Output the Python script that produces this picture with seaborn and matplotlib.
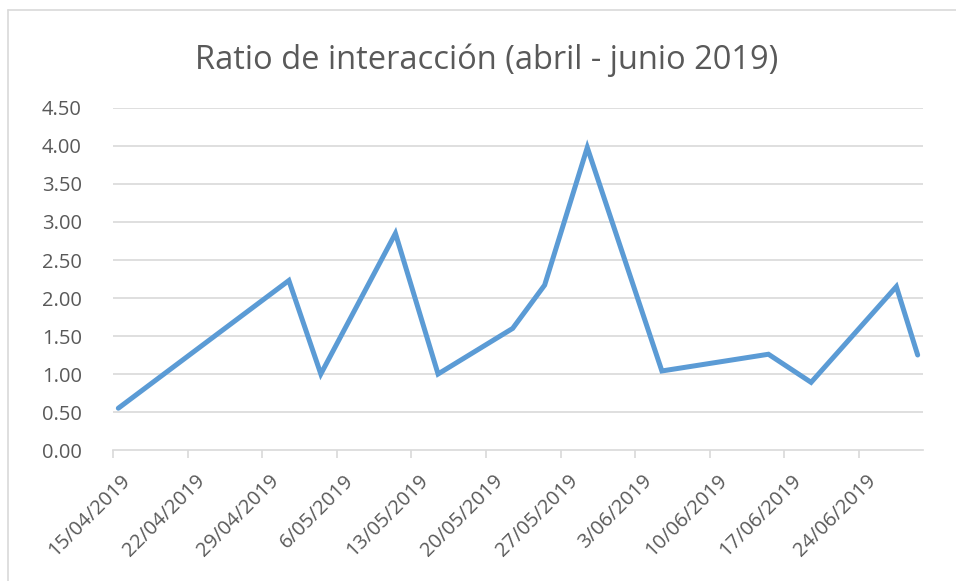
import matplotlib
matplotlib.use("Agg")
import matplotlib.pyplot as plt
import matplotlib.transforms as mtransforms
import seaborn as sns
import pandas as pd

dates = ["2019-04-15", "2019-05-01", "2019-05-04", "2019-05-11", "2019-05-15",
         "2019-05-22", "2019-05-25", "2019-05-29", "2019-06-05", "2019-06-15",
         "2019-06-19", "2019-06-27", "2019-06-29"]
ratio = [0.55, 2.23, 1.00, 2.85, 1.00, 1.60, 2.17, 3.98, 1.04, 1.26, 0.89, 2.15, 1.25]
tick_dates = ["2019-04-15", "2019-04-22", "2019-04-29", "2019-05-06", "2019-05-13",
              "2019-05-20", "2019-05-27", "2019-06-03", "2019-06-10", "2019-06-17",
              "2019-06-24"]
y_ticks = [0.0, 0.5, 1.0, 1.5, 2.0, 2.5, 3.0, 3.5, 4.0, 4.5]
title = "Ratio de interacción (abril - junio 2019)"

sns.set_theme(style="white")
plt.rcParams["font.family"] = ["Open Sans", "DejaVu Sans"]

txt = "#595959"
grid = "#d9d9d9"

df = pd.DataFrame({"fecha": pd.to_datetime(dates) + pd.Timedelta(hours=12), "ratio": ratio})

fig = plt.figure(figsize=(9.56, 5.81), dpi=100)
W, H = 956, 581
ax = fig.add_axes([113 / W, (H - 450) / H, (923 - 113) / W, (450 - 108) / H])

sns.lineplot(data=df, x="fecha", y="ratio", ax=ax, color="#5b9bd5", linewidth=3.6,
             solid_capstyle="round", solid_joinstyle="miter", zorder=3)

ax.set_xlim(pd.Timestamp("2019-04-15"), pd.Timestamp("2019-06-30"))
ax.set_ylim(0, 4.5)
ax.set_yticks(y_ticks)
ax.set_yticklabels([f"{v:.2f}" for v in y_ticks])
tk = pd.to_datetime(tick_dates)
ax.set_xticks(tk)
ax.set_xticklabels([f"{d.day}/{d.month:02d}/{d.year}" for d in tk], rotation=45,
                   ha="right", rotation_mode="anchor")

for y in y_ticks[1:]:
    ax.axhline(y, color=grid, linewidth=1.2, zorder=1)

for s in ["top", "right", "left"]:
    ax.spines[s].set_visible(False)
ax.spines["bottom"].set_color(grid)
ax.spines["bottom"].set_linewidth(1.2)

ax.tick_params(axis="x", which="both", bottom=True, length=6, width=1.2, color=grid,
               labelsize=14.5, labelcolor=txt, pad=9)
ax.tick_params(axis="y", left=False, labelsize=14.5, labelcolor=txt, pad=16.5)
ax.set_xlabel("")
ax.set_ylabel("")
ax.grid(False)

shift = mtransforms.ScaledTranslation(7 / 100, 0, fig.dpi_scale_trans)
for lab in ax.get_xticklabels():
    lab.set_transform(lab.get_transform() + shift)

fig.text((193 + 780) / 2 / W, 1 - 69 / H, title, ha="center", va="baseline",
         fontsize=23.5, color=txt)

# chart area border (left and top visible)
fig.add_artist(plt.Line2D([7.5 / W, 7.5 / W], [0, 1 - 10 / H], transform=fig.transFigure,
                          color=grid, linewidth=1.2))
fig.add_artist(plt.Line2D([7.5 / W, 1], [1 - 10 / H, 1 - 10 / H], transform=fig.transFigure,
                          color=grid, linewidth=1.2))

fig.savefig("out.png", dpi=100)
